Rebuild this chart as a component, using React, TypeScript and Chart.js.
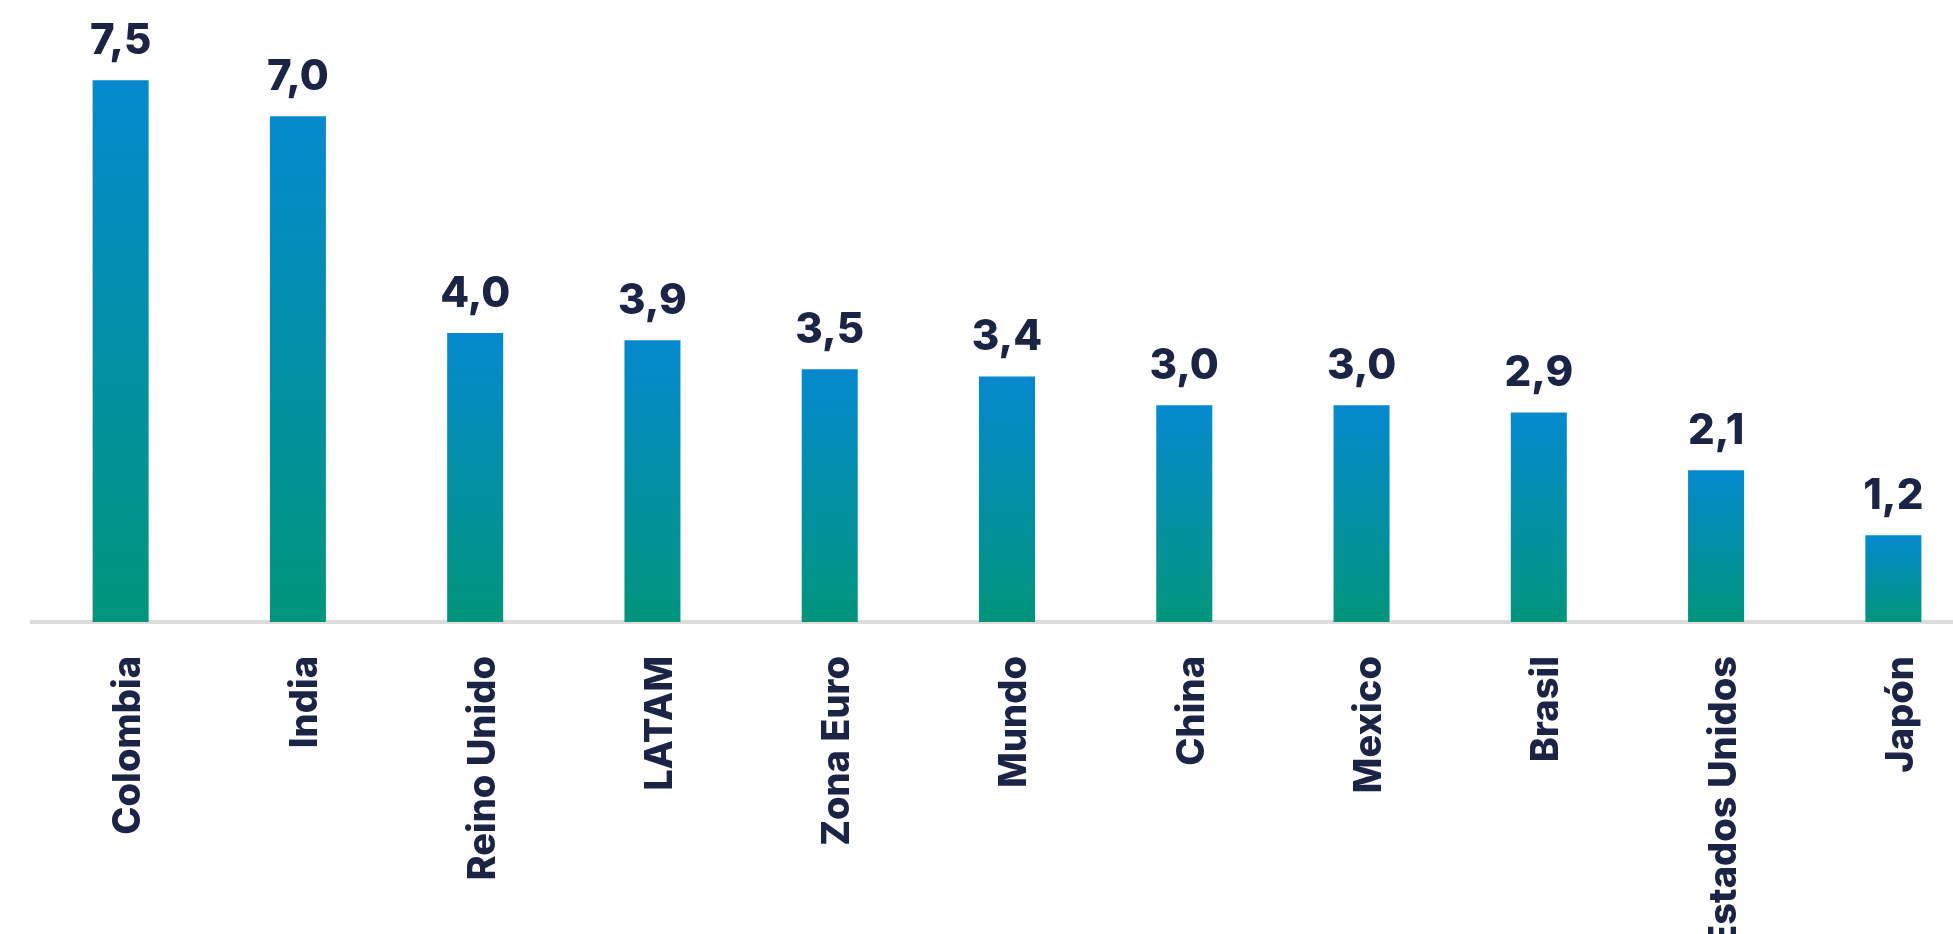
import React, { useEffect, useRef } from "react";
import { Chart, registerables } from "chart.js";

Chart.register(...registerables);

const categories: string[] = [
  "Colombia",
  "India",
  "Reino Unido",
  "LATAM",
  "Zona Euro",
  "Mundo",
  "China",
  "Mexico",
  "Brasil",
  "Estados Unidos",
  "Japón",
];

const values: number[] = [7.5, 7.0, 4.0, 3.9, 3.5, 3.4, 3.0, 3.0, 2.9, 2.1, 1.2];

const TOP_COLOR = "#0589CE";
const BOTTOM_COLOR = "#00957B";
const TEXT_COLOR = "#1B2445";
const FONT_FAMILY = "Inter, 'Open Sans', sans-serif";

const valueLabels = {
  id: "valueLabels",
  afterDatasetsDraw(chart: any) {
    const ctx = chart.ctx;
    const meta = chart.getDatasetMeta(0);
    ctx.save();
    ctx.font = `800 42px ${FONT_FAMILY}`;
    ctx.fillStyle = TEXT_COLOR;
    ctx.textAlign = "center";
    ctx.textBaseline = "alphabetic";
    meta.data.forEach((el: any, i: number) => {
      const v = values[i];
      const txt = v.toFixed(1).replace(".", ",");
      ctx.fillText(txt, el.x, el.y - 26);
    });
    ctx.restore();
  },
};

export default function App() {
  const ref = useRef<HTMLCanvasElement | null>(null);

  useEffect(() => {
    if (!ref.current) return;
    const chart = new Chart(ref.current, {
      type: "bar",
      data: {
        labels: categories,
        datasets: [
          {
            data: values,
            backgroundColor: (context: any) => {
              const chart = context.chart;
              const yScale = chart.scales?.y;
              if (!chart.chartArea || !yScale || context.dataIndex === undefined) return TOP_COLOR;
              const v = context.raw as number;
              const top = yScale.getPixelForValue(v);
              const base = yScale.getPixelForValue(0);
              if (!isFinite(top) || !isFinite(base) || top === base) return TOP_COLOR;
              const g = chart.ctx.createLinearGradient(0, top, 0, base);
              g.addColorStop(0, TOP_COLOR);
              g.addColorStop(1, BOTTOM_COLOR);
              return g;
            },
            borderWidth: 0,
            barPercentage: 0.316,
            categoryPercentage: 1,
          },
        ],
      },
      options: {
        responsive: false,
        animation: false,
        devicePixelRatio: 1,
        layout: { padding: { left: 32, right: 0, top: 0, bottom: 0 } },
        plugins: {
          legend: { display: false },
          tooltip: { enabled: false },
        },
        scales: {
          x: {
            grid: { display: false, drawTicks: false },
            border: { display: true, color: "#DCDCDC", width: 4 },
            ticks: {
              minRotation: 90,
              maxRotation: 90,
              autoSkip: false,
              padding: 34,
              labelOffset: 8,
              color: TEXT_COLOR,
              font: { family: FONT_FAMILY, size: 38, weight: "800" },
            },
            afterFit: (scale: any) => {
              scale.height = 340;
            },
          },
          y: {
            display: false,
            min: 0,
            max: 8.61,
          },
        },
      },
      plugins: [valueLabels],
    } as any);
    return () => chart.destroy();
  }, []);

  return (
    <div
      style={{
        position: "fixed",
        left: 0,
        top: 0,
        width: 1953,
        height: 934,
        overflow: "hidden",
        background: "#FFFFFF",
      }}
    >
      <canvas ref={ref} width={1982} height={962} style={{ width: 1982, height: 962, display: "block" }} />
    </div>
  );
}
